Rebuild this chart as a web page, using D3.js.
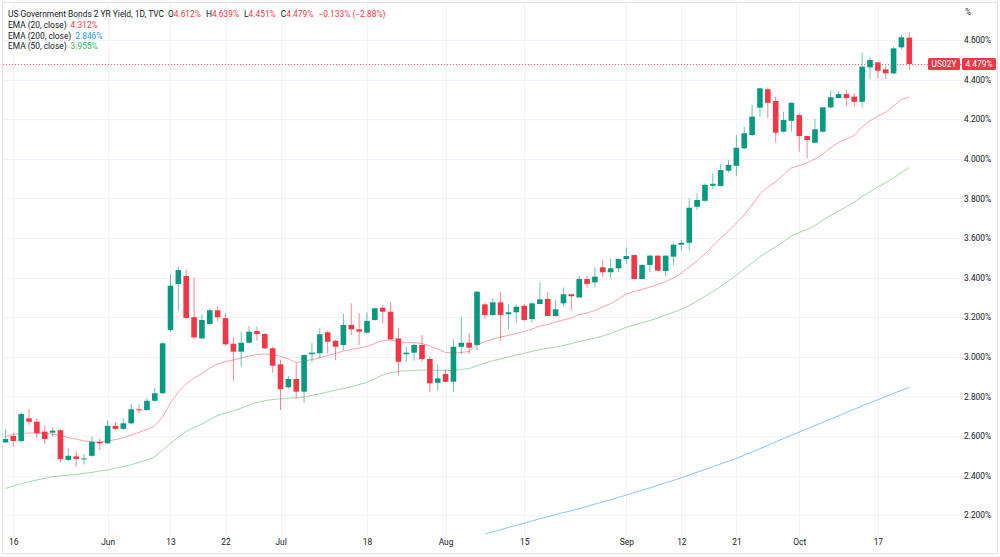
<!DOCTYPE html>
<html><head><meta charset="utf-8">
<script src="https://cdn.jsdelivr.net/npm/d3@7"></script>
<style>body{margin:0;background:#fff} svg{display:block} text{font-family:Roboto,"Liberation Sans",sans-serif}</style>
</head><body><svg id="c" width="1000" height="557"></svg>
<script>
// ---- DATA ----
const firstDay = "2022-05-13", lastDay = "2022-10-21";
const open = [2.568,2.600,2.575,2.689,2.672,2.622,2.617,2.629,2.479,2.497,2.482,2.500,2.571,2.563,2.651,2.636,2.664,2.735,2.731,2.778,2.816,
3.135,3.368,3.408,3.200,3.093,3.166,3.235,3.195,3.066,3.026,
3.071,3.130,3.115,3.043,2.962,2.846,2.888,2.824,3.013,3.018,
3.124,3.081,3.060,3.161,3.139,3.122,3.186,3.248,3.228,3.093,
3.013,3.021,3.060,2.989,2.869,2.913,2.874,3.051,3.071,3.060,
3.265,3.211,3.275,3.215,3.225,3.258,3.191,3.267,3.292,3.206,
3.270,3.316,3.300,3.393,3.376,3.452,3.427,3.447,3.494,3.514,
3.393,3.464,3.511,3.433,3.506,3.566,3.576,3.758,3.788,3.864,
3.863,3.940,3.965,4.053,4.120,4.258,4.351,4.292,4.137,4.192,
4.221,4.115,4.081,4.137,4.260,4.307,4.327,4.314,4.288,4.462,
4.487,4.452,4.432,4.563,4.612];
const high = [2.635,2.617,2.718,2.735,2.689,2.652,2.644,2.634,2.539,2.523,2.509,2.597,2.588,2.679,2.669,2.689,2.762,2.760,2.792,2.844,3.075,
3.418,3.455,3.442,3.402,3.215,3.246,3.257,3.220,3.098,3.127,
3.156,3.152,3.119,3.051,2.984,2.903,2.967,3.012,3.068,3.144,
3.132,3.085,3.216,3.270,3.220,3.223,3.248,3.262,3.275,3.144,
3.051,3.068,3.110,3.000,2.962,2.937,3.088,3.200,3.122,3.334,
3.273,3.295,3.329,3.267,3.265,3.267,3.275,3.375,3.329,3.290,
3.350,3.317,3.408,3.408,3.452,3.489,3.497,3.497,3.553,3.514,
3.467,3.514,3.514,3.514,3.573,3.590,3.800,3.826,3.876,3.927,
3.972,3.994,4.120,4.162,4.272,4.359,4.361,4.314,4.238,4.288,
4.230,4.115,4.201,4.260,4.347,4.342,4.351,4.331,4.536,4.516,
4.490,4.470,4.566,4.625,4.639];
const low = [2.565,2.546,2.565,2.656,2.588,2.560,2.597,2.467,2.472,2.445,2.457,2.495,2.528,2.560,2.630,2.630,2.661,2.715,2.728,2.773,2.812,
3.127,3.233,3.192,3.088,3.090,3.162,3.179,3.056,2.879,2.950,
3.068,3.081,3.039,2.920,2.731,2.841,2.790,2.768,2.975,2.992,
3.018,2.984,3.034,3.110,3.060,3.119,3.182,3.169,3.085,2.908,
2.975,2.980,2.975,2.821,2.829,2.870,2.821,3.013,3.014,3.034,
3.194,3.208,3.081,3.139,3.174,3.179,3.174,3.267,3.206,3.203,
3.253,3.233,3.300,3.349,3.349,3.402,3.397,3.427,3.469,3.393,
3.393,3.427,3.435,3.405,3.464,3.539,3.539,3.741,3.783,3.847,
3.859,3.930,3.915,4.049,4.115,4.213,4.205,4.081,4.132,4.137,
4.036,4.003,4.078,4.132,4.255,4.304,4.267,4.263,4.260,4.402,
4.405,4.403,4.428,4.553,4.451];
const close = [2.585,2.575,2.711,2.672,2.614,2.585,2.627,2.484,2.500,2.484,2.487,2.571,2.563,2.651,2.636,2.664,2.735,2.730,2.778,2.816,3.068,
3.359,3.438,3.196,3.098,3.186,3.235,3.200,3.063,3.026,3.071,
3.127,3.115,3.043,2.955,2.837,2.888,2.824,3.009,3.021,3.114,
3.076,3.051,3.161,3.139,3.127,3.181,3.245,3.228,3.088,2.975,
3.021,3.060,2.989,2.866,2.891,2.874,3.051,3.071,3.046,3.329,
3.211,3.275,3.211,3.225,3.253,3.186,3.270,3.290,3.206,3.240,
3.316,3.306,3.393,3.368,3.405,3.427,3.447,3.494,3.509,3.393,
3.464,3.511,3.435,3.511,3.566,3.576,3.753,3.792,3.868,3.874,
3.943,3.969,4.056,4.129,4.213,4.356,4.283,4.132,4.196,4.283,
4.115,4.095,4.149,4.260,4.311,4.327,4.307,4.288,4.465,4.499,
4.445,4.432,4.558,4.614,4.479];
const ema20 = [2.598,2.608,2.613,2.615,2.615,2.613,2.609,2.603,2.592,2.585,2.575,2.570,2.567,2.575,2.582,2.592,2.605,2.618,2.633,2.651,2.696,
2.767,2.822,2.863,2.893,2.916,2.943,2.964,2.976,2.984,2.994,
3.004,3.012,3.014,3.012,3.002,2.989,2.971,2.979,2.986,2.996,
3.007,3.017,3.029,3.037,3.044,3.052,3.067,3.082,3.085,3.077,
3.072,3.072,3.067,3.055,3.039,3.022,3.019,3.022,3.027,3.060,
3.077,3.090,3.100,3.108,3.118,3.128,3.140,3.156,3.163,3.176,
3.186,3.196,3.214,3.221,3.234,3.252,3.269,3.292,3.317,3.330,
3.340,3.353,3.365,3.380,3.398,3.423,3.454,3.484,3.519,3.560,
3.600,3.635,3.676,3.716,3.767,3.822,3.858,3.883,3.921,3.954,
3.966,3.981,3.999,4.024,4.057,4.082,4.100,4.118,4.161,4.192,
4.216,4.236,4.267,4.299,4.312];
const ema50 = [2.335,2.347,2.359,2.369,2.378,2.386,2.394,2.398,2.402,2.406,2.411,2.416,2.423,2.429,2.437,2.446,2.455,2.466,2.479,2.496,2.529,
2.562,2.595,2.623,2.643,2.661,2.683,2.703,2.716,2.728,2.741,
2.757,2.769,2.779,2.784,2.788,2.791,2.793,2.797,2.805,2.813,
2.822,2.831,2.840,2.849,2.860,2.870,2.890,2.908,2.920,2.926,
2.929,2.932,2.933,2.933,2.932,2.931,2.931,2.936,2.941,2.954,
2.969,2.980,2.989,2.999,3.009,3.018,3.027,3.037,3.043,3.049,
3.057,3.067,3.077,3.086,3.095,3.105,3.118,3.133,3.149,3.161,
3.172,3.183,3.196,3.211,3.225,3.240,3.260,3.282,3.305,3.330,
3.355,3.383,3.413,3.443,3.474,3.506,3.531,3.556,3.582,3.610,
3.628,3.643,3.663,3.690,3.714,3.736,3.758,3.782,3.810,3.834,
3.858,3.880,3.903,3.931,3.955];
const ema200Start = "2022-08-08";
const ema200 = [2.105,2.116,2.127,2.138,2.149,2.160,2.171,2.182,2.192,2.203,
2.213,2.223,2.233,2.244,2.256,2.267,2.278,2.290,2.302,2.314,
2.326,2.338,2.351,2.363,2.376,2.389,2.403,2.417,2.431,2.445,
2.459,2.473,2.487,2.503,2.519,2.536,2.553,2.570,2.587,2.604,
2.620,2.637,2.653,2.669,2.685,2.702,2.719,2.735,2.752,2.769,
2.783,2.799,2.815,2.831,2.846];
const tickDates = ["2022-05-16","2022-06-01","2022-06-13","2022-06-22","2022-07-01","2022-07-18","2022-08-01","2022-08-15","2022-09-01","2022-09-12","2022-09-21","2022-10-03","2022-10-17"];
const tickLabels = ["16","Jun","13","22","Jul","18","Aug","15","Sep","12","21","Oct","17"];
const yTicks = [2.2,2.4,2.6,2.8,3.0,3.2,3.4,3.6,3.8,4.0,4.2,4.4,4.6];
const lastPrice = 4.479;
const changeText = "\u22120.133% (\u22122.88%)";

// ---- SETUP ----
const UP = "#089981", DOWN = "#F23645";
const FS = 8.4;
const fmt = d3.timeFormat("%Y-%m-%d"), parse = d3.timeParse("%Y-%m-%d");
const days = d3.timeDay.range(parse(firstDay), d3.timeDay.offset(parse(lastDay), 1))
  .filter(d => d.getDay() !== 0 && d.getDay() !== 6).map(fmt);
const bars = days.map((d, i) => ({d, o: open[i], h: high[i], l: low[i], c: close[i]}));

const plot = {l: 3, r: 962, t: 3, b: 536};
const x = d3.scalePoint().domain(days).range([5.44, 909.3]);
const y = d3.scaleLinear().domain([2.095, 4.787]).range([plot.b, plot.t]);

const svg = d3.select("#c");
svg.append("defs").append("clipPath").attr("id", "clip")
  .append("rect").attr("x", plot.l).attr("y", plot.t).attr("width", plot.r - plot.l).attr("height", plot.b - plot.t);

// grid
const grid = svg.append("g").attr("stroke", "#F0F3FA").attr("stroke-width", 1);
grid.selectAll(".hg").data(yTicks).join("line")
  .attr("x1", plot.l).attr("x2", plot.r)
  .attr("y1", d => Math.round(y(d)) + 0.5).attr("y2", d => Math.round(y(d)) + 0.5);
grid.selectAll(".vg").data(tickDates).join("line")
  .attr("y1", plot.t).attr("y2", plot.b)
  .attr("x1", d => Math.round(x(d)) + 0.5).attr("x2", d => Math.round(x(d)) + 0.5);

// frame
svg.append("rect").attr("x", 2.5).attr("y", 2.5).attr("width", 995).attr("height", 551)
  .attr("fill", "none").attr("stroke", "#E0E3EB");

const g = svg.append("g").attr("clip-path", "url(#clip)");

// EMA lines
const line = d3.line().x(d => x(d[0])).y(d => y(d[1]));
const e200i = days.indexOf(ema200Start);
g.append("path").datum(ema200.map((v, k) => [days[e200i + k], v]))
  .attr("d", line).attr("fill", "none").attr("stroke", "#2196F3").attr("stroke-opacity", 0.55).attr("stroke-width", 1);
g.append("path").datum(ema50.map((v, k) => [days[k], v]))
  .attr("d", line).attr("fill", "none").attr("stroke", "#4CAF50").attr("stroke-opacity", 0.5).attr("stroke-width", 1);
g.append("path").datum(ema20.map((v, k) => [days[k], v]))
  .attr("d", line).attr("fill", "none").attr("stroke", "#F23645").attr("stroke-opacity", 0.45).attr("stroke-width", 1);

// last price dotted line
g.append("line").attr("x1", plot.l).attr("x2", plot.r)
  .attr("y1", Math.round(y(lastPrice)) + 0.5).attr("y2", Math.round(y(lastPrice)) + 0.5)
  .attr("stroke", DOWN).attr("stroke-dasharray", "1,2").attr("stroke-opacity", 0.8);

// candles
const bw = 5.6;
const cg = g.selectAll(".cd").data(bars).join("g");
cg.append("line")
  .attr("x1", d => x(d.d)).attr("x2", d => x(d.d))
  .attr("y1", d => y(d.h)).attr("y2", d => y(d.l))
  .attr("stroke", d => d.c >= d.o ? UP : DOWN).attr("stroke-opacity", 0.6).attr("stroke-width", 1);
cg.append("rect")
  .attr("x", d => x(d.d) - bw / 2).attr("width", bw)
  .attr("y", d => y(Math.max(d.o, d.c)))
  .attr("height", d => Math.max(1, Math.abs(y(d.o) - y(d.c))))
  .attr("fill", d => d.c >= d.o ? UP : DOWN);

// y axis
const yAxis = d3.axisRight(y).tickValues(yTicks).tickSize(0).tickPadding(0).tickFormat(d => d.toFixed(3) + "%");
const ya = svg.append("g").attr("transform", `translate(964,0)`).call(yAxis);
ya.select(".domain").remove();
ya.selectAll("text").attr("font-size", FS).attr("fill", "#131722").attr("font-family", "Roboto");
svg.append("text").attr("x", 965).attr("y", 15).attr("font-size", FS).attr("fill", "#131722").text("%");

// x axis
const xAxis = d3.axisBottom(x).tickValues(tickDates).tickSize(0).tickPadding(0)
  .tickFormat((d, i) => tickLabels[i]);
const xa = svg.append("g").attr("transform", `translate(0,539)`).call(xAxis);
xa.select(".domain").remove();
xa.selectAll("text").attr("font-size", FS).attr("fill", "#131722").attr("font-family", "Roboto");

// price labels
const py = y(lastPrice);
svg.append("rect").attr("x", 928).attr("y", py - 6).attr("width", 32).attr("height", 12).attr("rx", 1.5).attr("fill", DOWN);
svg.append("text").attr("x", 944).attr("y", py + 3).attr("text-anchor", "middle").attr("font-size", FS).attr("fill", "#fff").text("US02Y");
svg.append("rect").attr("x", 962).attr("y", py - 6).attr("width", 34).attr("height", 12).attr("rx", 1.5).attr("fill", DOWN);
svg.append("text").attr("x", 979).attr("y", py + 3).attr("text-anchor", "middle").attr("font-size", FS).attr("fill", "#fff").text(lastPrice.toFixed(3) + "%");

// legend
const li = days.length - 1;
const lg = svg.append("g").attr("font-size", FS);
const t1 = lg.append("text").attr("x", 8).attr("y", 17).attr("fill", "#131722");
t1.append("tspan").text("US Government Bonds 2 YR Yield, 1D, TVC");
const ohlc = [["O", open], ["H", high], ["L", low], ["C", close]];
ohlc.forEach(([k, arr], j) => {
  t1.append("tspan").attr("dx", j === 0 ? 4 : 5).attr("fill", "#131722").text(k);
  t1.append("tspan").attr("fill", DOWN).text(arr[li].toFixed(3) + "%");
});
t1.append("tspan").attr("dx", 5).attr("fill", DOWN).text(changeText);
const emaLeg = [["EMA (20, close)", ema20[li], "#F23645"], ["EMA (200, close)", ema200[ema200.length - 1], "#2196F3"], ["EMA (50, close)", ema50[li], "#4CAF50"]];
emaLeg.forEach(([name, v, col], j) => {
  const t = lg.append("text").attr("x", 8).attr("y", 28 + j * 10.7).attr("fill", "#131722");
  t.append("tspan").text(name);
  t.append("tspan").attr("dx", 4).attr("fill", col).text(v.toFixed(3) + "%");
});
</script></body></html>
